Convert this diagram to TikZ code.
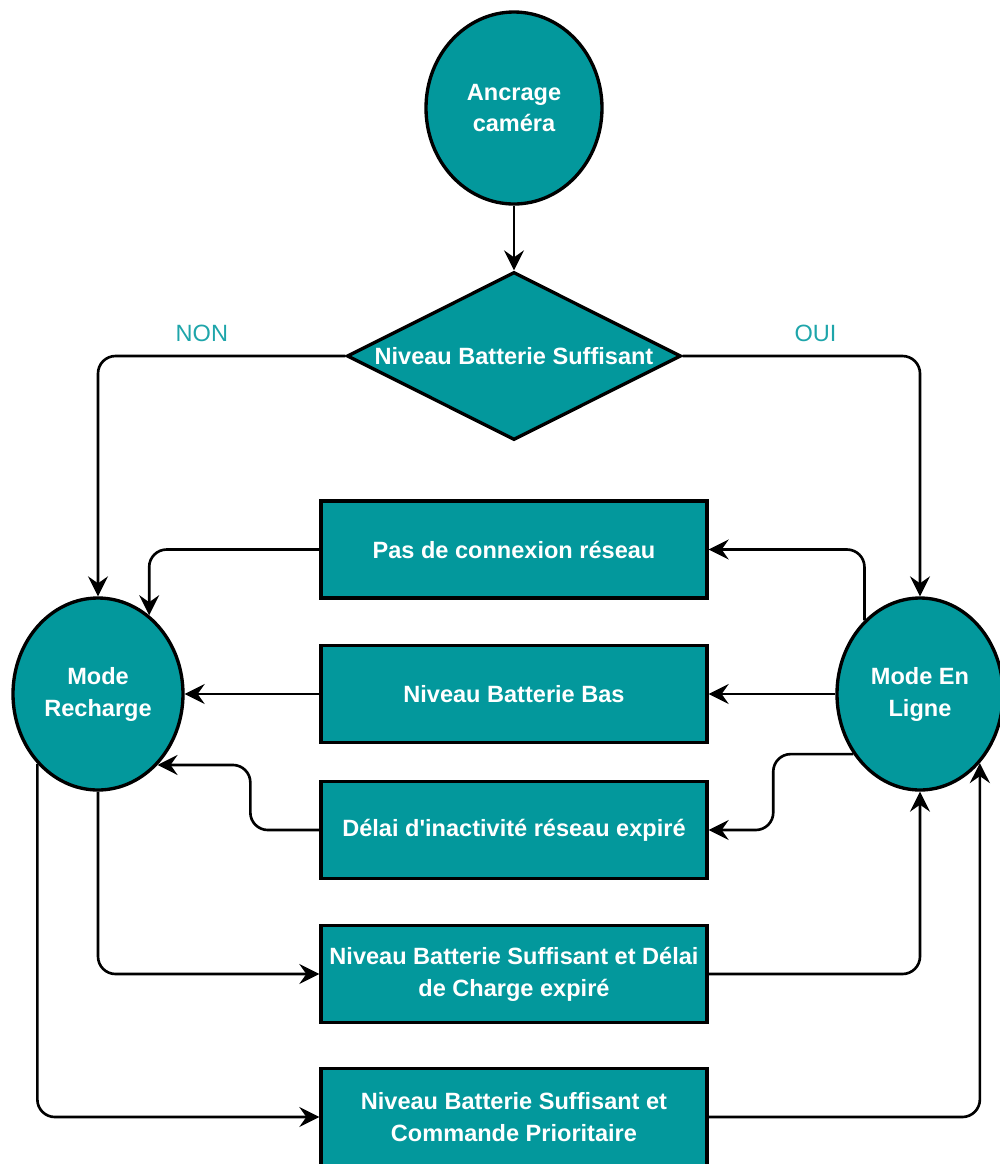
\documentclass[tikz,border=0pt]{standalone}
\usepackage{fontspec}
\setmainfont{Liberation Sans}
\usetikzlibrary{shapes.geometric,arrows.meta}
\definecolor{sarcelle}{RGB}{3,152,156}
\definecolor{reponse}{RGB}{30,165,170}

\begin{document}
\begin{tikzpicture}[
  bloc/.style={draw=black,line width=1.9pt,fill=sarcelle,text=white,align=center,inner sep=0pt,
    font=\bfseries\fontsize{13.4}{18.2}\selectfont},
  etat/.style={bloc,ellipse},
  cond/.style={bloc,rectangle,minimum width=7.72cm,minimum height=1.94cm},
  fleche/.style={-{Stealth[length=4mm,width=4mm,inset=1.4mm]},line width=1.5pt,rounded corners=0.35cm},
  rep/.style={text=reponse,font=\fontsize{13.4}{16}\selectfont}]
\useasboundingbox (0,0) rectangle (20,-23.28);

\node (A) at (10.28,-2.16) [etat,minimum width=3.52cm,minimum height=3.84cm]{Ancrage\\caméra};
\node (N) at (10.28,-7.12) [bloc,diamond,aspect=2,minimum width=6.68cm,minimum height=3.36cm]{Niveau Batterie Suffisant};
\node (R) at (1.96,-13.88) [etat,minimum width=3.4cm,minimum height=3.84cm]{Mode\\Recharge};
\node (L) at (18.40,-13.88) [etat,minimum width=3.32cm,minimum height=3.84cm]{Mode En\\Ligne};

\node (T1) at (10.28,-10.99) [cond]{Pas de connexion réseau};
\node (T2) at (10.28,-13.88) [cond]{Niveau Batterie Bas};
\node (T3) at (10.28,-16.60) [cond]{Délai d\textquotesingle inactivité réseau expiré};
\node (T4) at (10.28,-19.48) [cond]{Niveau Batterie Suffisant et Délai\\de Charge expiré};
\node (T5) at (10.28,-22.34) [cond]{Niveau Batterie Suffisant et\\Commande Prioritaire};

\draw[fleche] (A)--(N);
\draw[fleche] (N.west) -| node[rep,pos=0.29,above=4pt]{NON} (R.north);
\draw[fleche] (N.east) -| node[rep,pos=0.28,above=4pt]{OUI} (L.north);
\draw[fleche] (L.127) |- (T1.east);
\draw[fleche] (T1.west) -| (R.57);
\draw[fleche] (L.west) -- (T2.east);
\draw[fleche] (T2.west) -- (R.east);
\draw[fleche] (L.222) -- ++(-1.6,0) |- (T3.east);
\draw[fleche] (T3.west) -- ++(-1.38,0) |- (R.-50);
\draw[fleche] (R.south) |- (T4.west);
\draw[fleche] (T4.east) -| (L.south);
\draw[fleche] (R.229) |- (T5.west);
\draw[fleche] (T5.east) -| (L.south east);

\end{tikzpicture}
\end{document}
